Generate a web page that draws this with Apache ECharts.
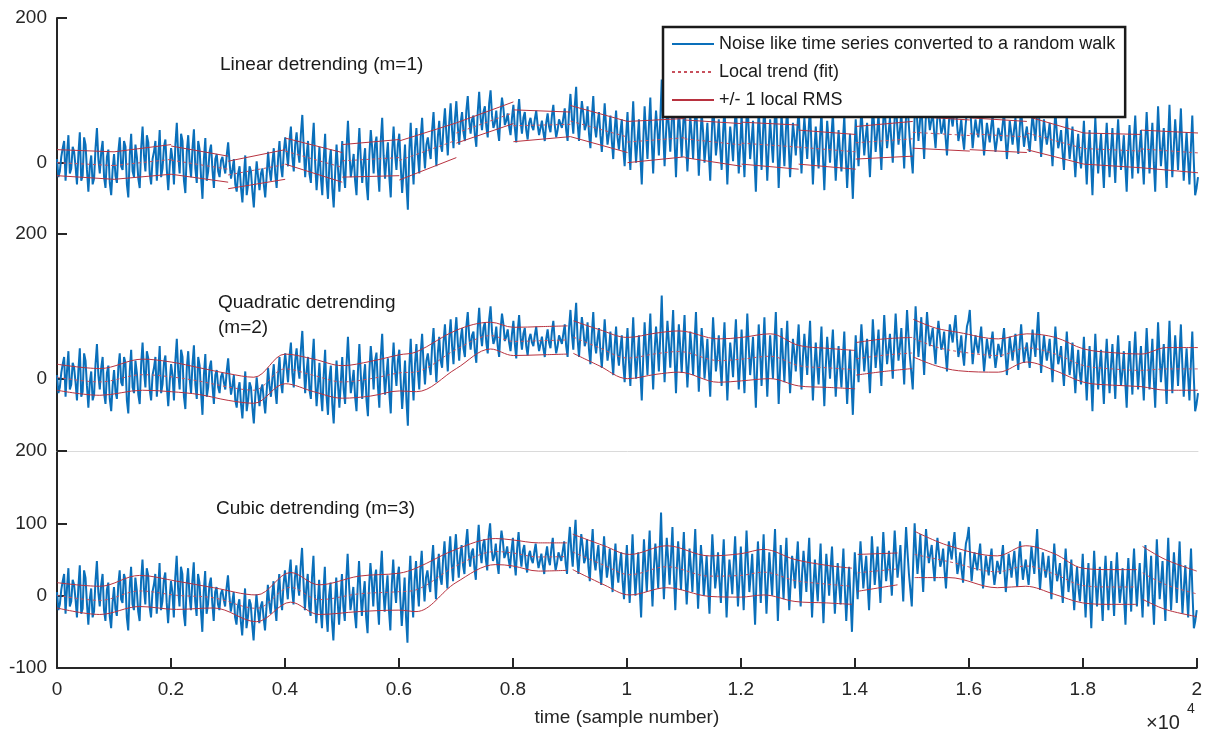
<!DOCTYPE html>
<html>
<head>
<meta charset="utf-8">
<title>Detrending</title>
<script src="https://cdn.jsdelivr.net/npm/echarts@6/dist/echarts.min.js"></script>
<style>body{margin:0;background:#fff;}</style>
</head>
<body>
<div id="main" style="width:1205px;height:734px;"></div>
<script>
var FONT = '"Liberation Sans", Arial, sans-serif';
var INK = '#262626';

// the noise-like series as a random walk
// walk: values at samples 0, 50, 100 ... 20000
var sampleStep = 50;
var walk = [
  5, -12, 20, -25, 38, -8, 15, -30, 42, -18, 25, -40, 10, -22, 48, -15, 30, -35, 18, -45,
  12, -28, 35, -10, 22, -48, 40, -20, 8, -35, 50, -12, 28, -30, 15, -25, 45, -8, 32, -38,
  20, -30, 55, -15, 30, -42, 38, -20, 46, -28, 18, -50, 34, -12, 25, -35, 12, -20, 8, -15,
  28, -22, 5, -40, -5, -55, 10, -30, -12, -62, 2, -38, -8, -48, 15, -25, 20, -35, 30, -20,
  35, -5, 50, -12, 42, 0, 66, -20, 30, -28, 55, -38, 22, -45, 40, -50, 18, -62, 25, -40,
  30, -35, 58, -20, 12, -45, 48, -28, 20, -52, 45, -15, 36, -40, 62, -22, 28, -48, 50, -10,
  40, -42, 25, -65, 55, -30, 48, -15, 62, -8, 35, 5, 70, -5, 58, 15, 75, 10, 82, 20,
  85, 25, 70, 30, 92, 40, 65, 22, 98, 45, 78, 35, 100, 48, 72, 30, 90, 52, 68, 38,
  80, 28, 88, 40, 70, 32, 62, 45, 72, 38, 58, 30, 68, 42, 80, 35, 60, 48, 75, 30,
  95, 40, 105, 30, 85, 45, 78, 20, 92, 35, 70, 15, 82, 25, 65, 5, 72, 18, 60, -5,
  70, -10, 85, 0, 60, -30, 78, 5, 90, -15, 72, 10, 115, -5, 80, 15, 95, -20, 75, 8,
  88, -12, 65, 5, 92, -18, 70, 0, 55, -25, 85, 10, 60, -10, 78, -30, 50, 2, 82, -15,
  68, -20, 90, 5, 58, -40, 75, -10, 85, -25, 60, 0, 92, -35, 70, -5, 80, -20, 55, 10,
  75, -15, 62, 5, 80, -30, 50, -8, 72, -38, 58, 0, 68, -25, 45, -12, 65, -35, 40, -50,
  60, -5, 75, 10, 55, -20, 82, 15, 68, -10, 88, 20, 62, 0, 90, 25, 70, -8, 95, 30,
  -15, 100, 30, 85, 5, 92, 45, 70, 20, 80, 40, 65, 10, 75, 50, 88, 30, 60, 18, 72,
  95, 20, 60, 35, 72, 10, 55, 28, 65, 15, 48, 30, 70, 5, 58, 25, 62, 12, 75, 22,
  50, 15, 68, 30, 92, 8, 60, 25, 55, -5, 72, 20, 45, -10, 65, 5, 50, -20, 40, -8,
  58, -30, 45, -45, 62, -15, 40, -35, 55, -20, 48, -28, 60, -10, 38, -40, 52, -22, 65, -15,
  45, -30, 70, -15, 55, -40, 78, -5, 48, -35, 80, -20, 60, -10, 75, -25, 42, -30, 65, -45,
  -20
];
// walkMid: values half way between, at samples 25, 75 ... 19975
var walkMid = [
  -20, 8, 30, 10, -15, 22, -5, 12, -25, 35, -10, -5, -30, 20, 5, 15, -20, 8, -28, -10,
  -18, 15, -5, 30, -30, 10, -12, 25, -22, 20, 10, 38, -15, 5, 30, 8, -20, 22, -10, -5,
  5, 25, 10, 40, -25, 15, 0, 20, -8, 30, -20, 5, -25, 15, -10, 5, -12, 3, -5, 10,
  0, -10, -30, -15, -35, -20, -45, -5, -40, -25, -20, -15, -30, -18, -10, 0, -15, 5, -5, 15,
  15, 30, 8, 25, 15, 40, 20, 10, -15, 25, 0, -10, -20, 5, -25, 0, -35, -15, -8, -5,
  -15, 20, 15, -5, -25, 10, 5, 0, -30, 10, 20, 25, -10, 30, 10, 5, -20, 15, 12, 25,
  -5, -10, -30, 15, 5, 20, 10, 35, 20, 25, 18, 45, 30, 35, 25, 50, 40, 55, 45, 60,
  50, 55, 42, 72, 58, 60, 38, 70, 62, 70, 50, 82, 65, 55, 45, 68, 75, 58, 50, 62,
  48, 65, 58, 62, 45, 55, 50, 60, 52, 48, 42, 55, 50, 65, 52, 45, 58, 62, 45, 70,
  62, 78, 55, 60, 68, 52, 40, 62, 50, 55, 38, 48, 50, 40, 30, 45, 35, 42, 20, 35,
  25, 40, 35, 30, 10, 28, 40, 50, 30, 38, 45, 60, 45, 40, 50, 55, 30, 35, 42, 50,
  30, 25, 38, 50, 35, 28, 42, 25, 12, 35, 48, 30, 20, 40, 22, 15, 28, 45, 30, 22,
  20, 38, 45, 30, 5, 22, 35, 40, 25, 20, 28, 50, 25, 15, 30, 42, 25, 18, 35, 45,
  25, 30, 35, 45, 20, 15, 18, 35, 10, 15, 30, 38, 20, 12, 15, 28, 10, 5, -5, 8,
  25, 38, 42, 35, 15, 30, 48, 40, 25, 42, 52, 40, 30, 48, 55, 45, 30, 50, 60, 8,
  45, 62, 55, 40, 55, 65, 58, 42, 55, 60, 48, 35, 45, 62, 70, 55, 42, 35, 50, 80,
  52, 42, 45, 55, 38, 32, 40, 50, 35, 30, 40, 52, 35, 30, 42, 45, 35, 48, 45, 38,
  30, 42, 48, 62, 45, 35, 40, 38, 25, 35, 42, 30, 15, 30, 32, 25, 12, 15, 10, 22,
  10, 15, 0, 12, 20, 15, 0, 20, 15, 18, 8, 25, 20, 10, -5, 15, 12, 30, 20, 18,
  5, 25, 30, 20, 0, 22, 35, 20, 5, 30, 25, 20, 28, 32, 20, 10, 5, 20, 5, -35
];

// linear fit: one straight piece per 1000 samples, band edges at start / end of piece
var linSegLen = 1000;
var linUpperA = [18, 15, 23, 2, 34, 25, 30, 55, 73, 79, 57, 59, 56, 45, 50, 64, 62, 64, 41, 45];
var linUpperB = [15, 25, 9, 18, 14, 32, 55, 84, 70, 57, 61, 54, 52, 39, 57, 59, 57, 41, 39, 41];
var linLowerA = [-18, -23, -16, -36, -2, -20, -24, 27, 29, 36, 0, 7, -2, -2, 5, 20, 18, 18, -2, -7];
var linLowerB = [-23, -16, -27, -23, -27, -18, 7, 54, 36, 14, 8, -5, -9, -9, 9, 16, 14, -2, -7, -14];

// quadratic fit band (null = break between pieces)
var quadX =     [0, 750, 1500, 2000, 2500, 3000, 3450, 4000, 4500, 5000, 5500, 6000, 6300, 7000, 7600, 8000, 8500, 8950, 9000, 9050, 9500, 10000, 10500, 10900, 11600, 12000, 12500, 13000, 13500, 13990, 14000, 14010, 14500, 14990, 15000, 15010, 15400, 15800, 16500, 17000, 17500, 18000, 18500, 19000, 19450, 20000];
var quadUpper = [20, 14, 27, 23, 15, 7, 2, 34, 27, 18, 24, 33, 37, 67, 78, 71, 72, 73, null, 80, 68, 57, 63, 66, 55, 57, 62, 46, 42, 39, null, 50, 55, 57, null, 82, 70, 64, 55, 62, 57, 41, 36, 34, 43, 43];
var quadLower = [-16, -23, -16, -18, -22, -30, -34, -7, -18, -27, -24, -17, -18, 14, 41, 32, 33, 34, null, 35, 18, 0, 6, 9, -5, -3, 0, -10, -12, -14, null, 5, 10, 14, null, 30, 18, 11, 9, 23, 11, -5, -9, -11, -16, -16];

// cubic fit band
var cubX =     [0, 750, 1450, 2100, 2750, 3500, 4100, 4600, 5300, 6000, 6300, 7000, 7700, 8000, 8450, 8950, 9000, 9050, 9600, 10050, 10700, 11450, 12000, 12400, 12950, 13500, 13950, 14000, 14050, 14750, 15000, 15050, 15650, 16500, 17000, 17500, 18000, 18500, 18950, 19000, 19050, 19450, 20000];
var cubUpper = [18, 13, 28, 20, 11, 1, 32, 15, 27, 31, 38, 64, 79, 77, 73, 73, null, 85, 69, 57, 69, 55, 58, 64, 50, 42, 38, null, 57, 59, null, 89, 69, 55, 69, 58, 38, 36, 36, null, 68, 50, 34];
var cubLower = [-17, -26, -15, -19, -17, -36, -9, -26, -22, -20, -22, 18, 43, 41, 34, 35, null, 36, 15, 1, 11, -1, -2, 1, -8, -10, -12, null, 6, 15, null, 25, 25, 11, 13, 2, -10, -12, -12, null, -5, -19, -29];

var names = ['Noise like time series converted to a random walk', 'Local trend (fit)', '+/- 1 local RMS'];
var titles = ['Linear detrending (m=1)', 'Quadratic detrending\n(m=2)', 'Cubic detrending (m=3)'];

function walkData() {
  var out = [];
  for (var i = 0; i < walk.length; i++) {
    out.push([i * sampleStep, walk[i]]);
    if (i < walkMid.length) out.push([i * sampleStep + sampleStep / 2, walkMid[i]]);
  }
  return out;
}

function linBand() {
  var up = [], lo = [], tr = [];
  for (var i = 0; i < linUpperA.length; i++) {
    var x0 = i * linSegLen, x1 = (i + 1) * linSegLen;
    up.push([x0, linUpperA[i]], [x1, linUpperB[i]], [x1, '-']);
    lo.push([x0, linLowerA[i]], [x1, linLowerB[i]], [x1, '-']);
    tr.push([x0, (linUpperA[i] + linLowerA[i]) / 2], [x1, (linUpperB[i] + linLowerB[i]) / 2], [x1, '-']);
  }
  return { up: up, lo: lo, tr: tr };
}

function curveBand(xs, us, ls) {
  var up = [], lo = [], tr = [];
  for (var i = 0; i < xs.length; i++) {
    if (us[i] == null) {
      up.push([xs[i], '-']); lo.push([xs[i], '-']); tr.push([xs[i], '-']);
    } else {
      up.push([xs[i], us[i]]); lo.push([xs[i], ls[i]]); tr.push([xs[i], (us[i] + ls[i]) / 2]);
    }
  }
  return { up: up, lo: lo, tr: tr };
}

var bands = [linBand(), curveBand(quadX, quadUpper, quadLower), curveBand(cubX, cubUpper, cubLower)];
var walkPts = walkData();

var grids = [], xAxes = [], yAxes = [], series = [], titleList = [];
var gridTops = [18, 234, 451];
var titlePos = [[220, 52], [218, 290], [216, 496]];

for (var p = 0; p < 3; p++) {
  grids.push({ left: 57, right: 7, top: gridTops[p], height: 217 });

  var xa = { gridIndex: p, type: 'value', min: 0, max: 20000, interval: 2000, splitLine: { show: false } };
  if (p < 2) {
    xa.axisLine = { show: p === 1, onZero: false, lineStyle: { color: '#dadada', width: 1 } };
    xa.axisTick = { show: false };
    xa.axisLabel = { show: false };
  } else {
    xa.axisLine = { onZero: false, lineStyle: { color: INK, width: 2 } };
    xa.axisTick = { inside: true, length: 10, lineStyle: { color: INK, width: 2 } };
    xa.axisLabel = { formatter: function (v) { return String(v / 10000); }, fontSize: 19, color: INK, margin: 12, fontFamily: FONT };
    xa.name = 'time (sample number)';
    xa.nameLocation = 'middle';
    xa.nameGap = 40;
    xa.nameTextStyle = { fontSize: 19, color: INK, fontFamily: FONT };
  }
  xAxes.push(xa);

  var yTicks = p < 2 ? [0, 200] : [-100, 0, 100, 200];
  yAxes.push({
    gridIndex: p, type: 'value', min: -100, max: 200, interval: 100,
    axisLine: { show: true, onZero: false, lineStyle: { color: INK, width: 2 } },
    axisTick: { inside: true, length: 10, customValues: yTicks, lineStyle: { color: INK, width: 2 } },
    axisLabel: { customValues: yTicks, fontSize: 19, color: INK, margin: 10, fontFamily: FONT },
    splitLine: { show: false }
  });

  titleList.push({
    text: titles[p], left: titlePos[p][0], top: titlePos[p][1], padding: 0,
    textStyle: { fontSize: 19, fontWeight: 'normal', color: '#1a1a1a', fontFamily: FONT, lineHeight: 25 }
  });

  series.push({
    name: names[0], type: 'line', xAxisIndex: p, yAxisIndex: p, data: walkPts,
    symbol: 'none', sampling: null, animation: false, lineStyle: { color: '#0a6fba', width: 2 }, itemStyle: { color: '#0a6fba' }
  });
  var sm = p === 0 ? false : 0.35;
  series.push({
    name: names[1], type: 'line', xAxisIndex: p, yAxisIndex: p, data: bands[p].tr, smooth: sm,
    symbol: 'none', animation: false, lineStyle: { color: '#C8505C', width: 1, type: [3, 3] }, itemStyle: { color: '#C8505C' }
  });
  series.push({
    name: names[2], type: 'line', xAxisIndex: p, yAxisIndex: p, data: bands[p].up, smooth: sm,
    symbol: 'none', animation: false, lineStyle: { color: '#B8323F', width: 1 }, itemStyle: { color: '#B8323F' }
  });
  series.push({
    name: names[2], type: 'line', xAxisIndex: p, yAxisIndex: p, data: bands[p].lo, smooth: sm,
    symbol: 'none', animation: false, lineStyle: { color: '#B8323F', width: 1 }, itemStyle: { color: '#B8323F' }
  });
}

var myChart = echarts.init(document.getElementById('main'));
myChart.setOption({
  backgroundColor: '#fff',
  animation: false,
  title: titleList,
  grid: grids,
  xAxis: xAxes,
  yAxis: yAxes,
  legend: {
    data: names, orient: 'vertical', left: 663, top: 27,
    itemWidth: 42, itemHeight: 16, itemGap: 10,
    padding: [8, 10, 8, 8],
    itemStyle: { opacity: 0 },
    backgroundColor: '#fff', borderColor: '#1a1a1a', borderWidth: 2.5,
    textStyle: { fontSize: 18, color: '#1a1a1a', fontFamily: FONT },
    selectedMode: false
  },
  graphic: [
    { type: 'text', left: 1146, top: 713, style: { text: '\u00d710', fontSize: 20, fill: INK, fontFamily: FONT } },
    { type: 'text', left: 1187, top: 702, style: { text: '4', fontSize: 14, fill: INK, fontFamily: FONT } }
  ],
  series: series
});
</script>
</body>
</html>
